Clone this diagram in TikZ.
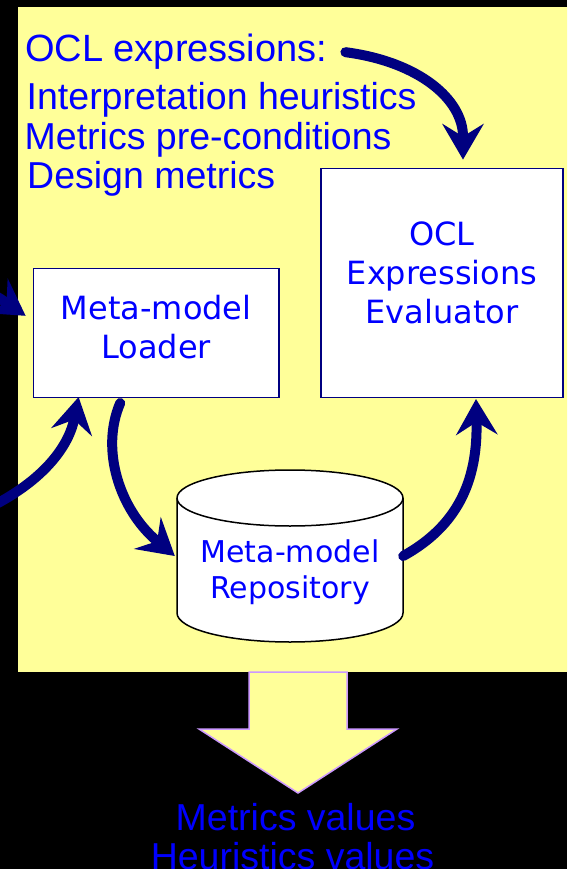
\documentclass[tikz,border=0pt]{standalone}
\usepackage{fontspec}
\setmainfont{Liberation Sans}
\newfontfamily\verd{DejaVu Sans}
\usetikzlibrary{arrows.meta,calc}
\definecolor{panel}{HTML}{FFFF99}
\definecolor{navy}{HTML}{000080}
\definecolor{txtblue}{HTML}{0000FF}
\definecolor{lilac}{HTML}{CC99FF}
\begin{document}
\begin{tikzpicture}[x=1pt,y=-1pt,
  flow/.style={draw=navy, line width=10pt, line cap=round,
    -{Stealth[length=36pt,width=42pt,inset=13pt,line width=0pt]}},
  comp/.style={draw=navy, line width=1.5pt, fill=white, text=txtblue, align=center,
    font=\verd\fontsize{32}{39}\selectfont, inner sep=0pt},
  lbl/.style={anchor=base west, inner sep=0pt, text=txtblue, font=\fontsize{37.5}{40}\selectfont},
  outlbl/.style={anchor=base, inner sep=0pt, text=txtblue, font=\fontsize{37.5}{40}\selectfont},
]
\useasboundingbox (0,0) rectangle (567,869);
\clip (0,0) rectangle (567,869);
\fill[black] (0,0) rectangle (567,869);
\fill[panel] (18,7) rectangle (580,672);

% texts
\node[lbl, font=\fontsize{38}{40}\selectfont] (ocl) at (25,62) {OCL expressions:};
\node[lbl] (interp) at (26.5,110) {Interpretation heuristics};
\node[lbl] (pre) at (24.5,150) {Metrics pre-conditions};
\node[lbl] (design) at (27,188) {Design metrics};

% components
\node[comp, minimum width=245.7pt, minimum height=129pt] (loader) at (156.2,332.8)
  {Meta-model\\Loader\rule[-12pt]{0pt}{12pt}};
\node[comp, minimum width=242.3pt, minimum height=229pt] (eval) at (442,282.8)
  {OCL\\Expressions\\Evaluator\rule[-20pt]{0pt}{20pt}};

% repository cylinder
\node[minimum width=226pt, minimum height=172pt, inner sep=0pt] (repo) at (290,556) {};
\filldraw[draw=black, fill=white, line width=1.5pt]
  (177,498) -- (177,613) arc[start angle=180, end angle=360, x radius=113pt, y radius=29pt]
  -- (403,498) arc[start angle=0, end angle=180, x radius=113pt, y radius=28pt] -- cycle;
\draw[black, line width=1.5pt] (177,498) arc[start angle=180, end angle=360, x radius=113pt, y radius=28pt];
\node[align=center, text=txtblue, inner sep=0pt, font=\verd\fontsize{30}{36}\selectfont] (repotxt) at (290,572)
  {Meta-model\\Repository};

% connectors
\coordinate (c2) at (-40,280);
\coordinate (c3) at (-20,512);
\draw[flow] ([xshift=18pt]ocl.east) .. controls (420,62) and (463,100) .. ([xshift=21pt,yshift=8pt]eval.north);
\draw[flow] (c2) .. controls (-5,295) .. ([xshift=-7pt,yshift=17pt]loader.west);
\draw[flow] (c3) .. controls (50,480) and (70,440) .. ([xshift=46pt,yshift=1pt]loader.south west);
\draw[flow] ([xshift=-36pt,yshift=-5pt]loader.south) .. controls (100,450) and (120,510) .. ([xshift=-2pt]repo.west);
\draw[flow] (repo.east) .. controls (450,530) and (478,490) .. ([xshift=34pt,yshift=-1pt]eval.south);

% output arrow
\draw[lilac, fill=panel, line width=1.5pt, line join=miter]
  (249,672) -- (347,672) -- (347,729) -- (397,729) -- (298,793) -- (199,729) -- (249,729) -- cycle;
\node[outlbl] (out1) at (295.5,830) {Metrics values};
\node[outlbl] (out2) at (292.5,869) {Heuristics values};
\end{tikzpicture}
\end{document}
